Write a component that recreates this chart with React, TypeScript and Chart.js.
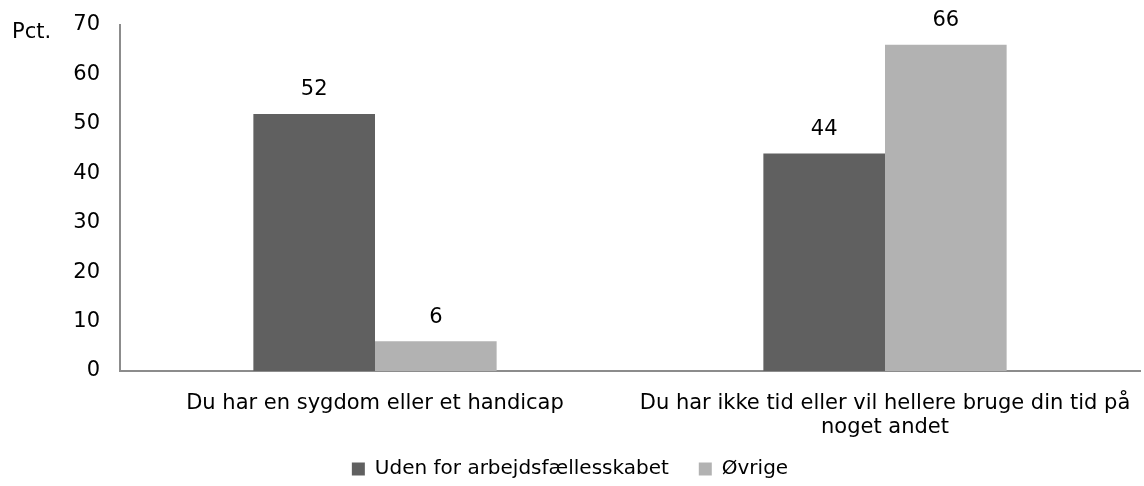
import React, { useEffect, useRef } from "react";
import { Chart, registerables } from "chart.js";

Chart.register(...registerables);

const categories: (string | string[])[] = [
  "Du har en sygdom eller et handicap",
  ["Du har ikke tid eller vil hellere bruge din tid på", "noget andet"],
];
const seriesNames = ["Uden for arbejdsfællesskabet", "Øvrige"];
const udenValues = [52, 44];
const oevrigeValues = [6, 66];
const yTicks = [0, 10, 20, 30, 40, 50, 60, 70];
const yUnit = "Pct.";

const FONT = "'DejaVu Sans', Verdana, sans-serif";
const FS = 21;
const LEGEND_FS = 20;

export default function App() {
  const ref = useRef<HTMLCanvasElement | null>(null);

  useEffect(() => {
    document.body.style.margin = "0";
    const canvas = ref.current;
    if (!canvas) return;

    const valueLabels = {
      id: "valueLabels",
      afterDatasetsDraw(chart: any) {
        const ctx = chart.ctx;
        ctx.save();
        ctx.font = `${FS}px ${FONT}`;
        ctx.fillStyle = "#000";
        ctx.textAlign = "center";
        ctx.textBaseline = "middle";
        chart.data.datasets.forEach((ds: any, i: number) => {
          const meta = chart.getDatasetMeta(i);
          meta.data.forEach((bar: any, j: number) => {
            ctx.fillText(String(ds.data[j]), bar.x, bar.y - 24);
          });
        });
        ctx.restore();
      },
    };

    const unitLabel = {
      id: "unitLabel",
      afterDraw(chart: any) {
        const ctx = chart.ctx;
        const y = chart.scales.y;
        ctx.save();
        ctx.font = `${FS}px ${FONT}`;
        ctx.fillStyle = "#000";
        ctx.textAlign = "left";
        ctx.textBaseline = "middle";
        ctx.fillText(yUnit, 12, y.getPixelForValue(yTicks[yTicks.length - 1]) + 8);
        ctx.restore();
      },
    };

    const chart = new Chart(canvas, {
      type: "bar",
      data: {
        labels: categories,
        datasets: [
          {
            label: seriesNames[0],
            data: udenValues,
            backgroundColor: "#606060",
            barPercentage: 1,
            categoryPercentage: 0.477,
          },
          {
            label: seriesNames[1],
            data: oevrigeValues,
            backgroundColor: "#b2b2b2",
            barPercentage: 1,
            categoryPercentage: 0.477,
          },
        ],
      },
      options: {
        animation: false,
        responsive: false,
        maintainAspectRatio: false,
        layout: { padding: { top: 25, right: 4, left: 0, bottom: -3 } },
        plugins: {
          tooltip: { enabled: false },
          legend: {
            position: "bottom",
            labels: {
              font: { family: FONT, size: LEGEND_FS },
              color: "#000",
              boxWidth: 13,
              boxHeight: 13,
              padding: 30,
            },
          },
        },
        scales: {
          x: {
            grid: { display: false, drawTicks: false },
            border: { display: true, color: "#8c8c8c", width: 2 },
            ticks: {
              font: { family: FONT, size: FS, lineHeight: 1.15 },
              color: "#000",
              padding: 20,
              maxRotation: 0,
              autoSkip: false,
            },
            afterFit(scale: any) {
              scale.height = 58;
              scale.paddingLeft = 0;
              scale.paddingRight = 0;
              // let the two-line label extend below the axis box
              scale._computeLabelArea = () => undefined;
            },
          },
          y: {
            min: 0,
            max: 70,
            grid: { display: false, drawTicks: false },
            border: { display: true, color: "#8c8c8c", width: 2 },
            ticks: {
              stepSize: 10,
              font: { family: FONT, size: FS },
              color: "#000",
              padding: 20,
            },
            afterFit(scale: any) {
              scale.width = 120;
              scale.paddingTop = 0;
              scale.paddingBottom = 0;
            },
          },
        },
      },
      plugins: [valueLabels, unitLabel],
    });

    return () => chart.destroy();
  }, []);

  return (
    <div style={{ width: 1144, height: 486 }}>
      <canvas ref={ref} width={1144} height={486} style={{ display: "block" }} />
    </div>
  );
}
